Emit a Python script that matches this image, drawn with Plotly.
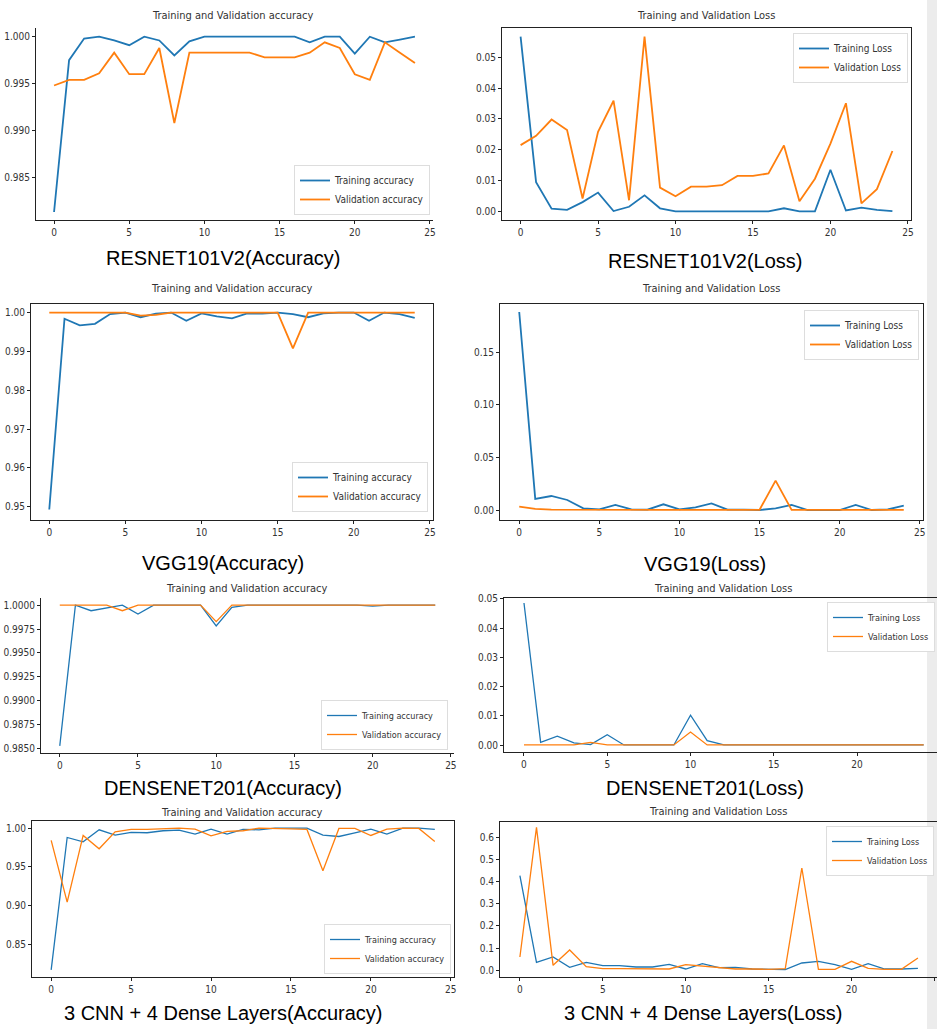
import plotly.graph_objects as go

W, H = 937, 1029
epochs = list(range(25))

# RESNET101V2
resnet_train_acc = [0.9813, 0.9975, 0.9998, 1.0, 0.9996, 0.9991, 1.0, 0.9996, 0.9980, 0.9995,
                    1.0, 1.0, 1.0, 1.0, 1.0, 1.0, 1.0, 0.9994, 1.0, 1.0,
                    0.9982, 1.0, 0.9994, 0.9997, 1.0]
resnet_val_acc = [0.9948, 0.9954, 0.9954, 0.9961, 0.9983, 0.9960, 0.9960, 0.9988, 0.9908, 0.9983,
                  0.9983, 0.9983, 0.9983, 0.9983, 0.9978, 0.9978, 0.9978, 0.9983, 0.9994, 0.9988,
                  0.9960, 0.9954, 0.9994, 0.9983, 0.9972]
resnet_train_loss = [0.0567, 0.0095, 0.0009, 0.0005, 0.0030, 0.0061, 0.0001, 0.0015, 0.0052, 0.0010,
                     0.0000, 0.0000, 0.0000, 0.0000, 0.0000, 0.0000, 0.0000, 0.0010, 0.0000, 0.0000,
                     0.0135, 0.0003, 0.0012, 0.0005, 0.0001]
resnet_val_loss = [0.0215, 0.0245, 0.0298, 0.0264, 0.0042, 0.0258, 0.0359, 0.0036, 0.0567, 0.0077,
                   0.0049, 0.0080, 0.0080, 0.0085, 0.0115, 0.0115, 0.0123, 0.0214, 0.0033, 0.0106,
                   0.0220, 0.0351, 0.0026, 0.0072, 0.0196]

# VGG19
vgg_train_acc = [0.9493, 0.9984, 0.9967, 0.9971, 0.9996, 1.0, 0.9988, 0.9997, 1.0, 0.9979,
                 0.9998, 0.9990, 0.9985, 0.9998, 0.9997, 1.0, 0.9996, 0.9988, 0.9998, 1.0,
                 1.0, 0.9979, 1.0, 0.9996, 0.9986]
vgg_val_acc = [1.0, 1.0, 1.0, 1.0, 1.0, 1.0, 0.9992, 0.9994, 1.0, 1.0,
               1.0, 1.0, 1.0, 1.0, 1.0, 1.0, 0.9908, 1.0, 1.0, 1.0,
               1.0, 1.0, 1.0, 1.0, 1.0]
vgg_train_loss = [0.1881, 0.0105, 0.0133, 0.0095, 0.0016, 0.0006, 0.0048, 0.0006, 0.0003, 0.0054,
                  0.0006, 0.0025, 0.0063, 0.0003, 0.0003, 0.0000, 0.0016, 0.0048, 0.0000, 0.0000,
                  0.0000, 0.0048, 0.0000, 0.0005, 0.0041]
vgg_val_loss = [0.0032, 0.0010, 0.0003, 0.0002, 0.0002, 0.0002, 0.0002, 0.0002, 0.0002, 0.0002,
                0.0002, 0.0002, 0.0002, 0.0002, 0.0002, 0.0002, 0.0279, 0.0001, 0.0001, 0.0001,
                0.0001, 0.0001, 0.0001, 0.0001, 0.0001]

# DENSENET201
dense_train_acc = [0.98528, 1.0, 0.99941, 0.9997, 1.0, 0.99906, 1.0, 1.0, 1.0, 1.0,
                   0.99782, 0.99976, 1.0, 1.0, 1.0, 1.0, 1.0, 1.0, 1.0, 1.0,
                   0.9999, 1.0, 1.0, 1.0, 1.0]
dense_val_acc = [1.0, 1.0, 1.0, 1.0, 0.99941, 1.0, 1.0, 1.0, 1.0, 1.0,
                 0.99827, 1.0, 1.0, 1.0, 1.0, 1.0, 1.0, 1.0, 1.0, 1.0,
                 1.0, 1.0, 1.0, 1.0, 1.0]
dense_train_loss = [0.0486, 0.0010, 0.0031, 0.0008, 0.0002, 0.0036, 0.0001, 0.0001, 0.0001, 0.0001,
                    0.01025, 0.0016, 0.0001, 0.0001, 0.0001, 0.0001, 0.0001, 0.0001, 0.0001, 0.0001,
                    0.0002, 0.0001, 0.0001, 0.0001, 0.0001]
dense_val_loss = [0.0001, 0.0001, 0.0001, 0.0001, 0.0010, 0.0001, 0.0001, 0.0001, 0.0001, 0.0001,
                  0.0045, 0.0001, 0.0001, 0.0001, 0.0001, 0.0001, 0.0001, 0.0001, 0.0001, 0.0001,
                  0.0001, 0.0001, 0.0001, 0.0001, 0.0001]

# 3 CNN + 4 Dense Layers
cnn_train_acc = [0.8168, 0.9879, 0.9823, 0.9978, 0.9909, 0.9944, 0.9940, 0.9966, 0.9974, 0.9922,
                 0.9987, 0.9922, 0.9983, 0.9978, 1.0, 1.0, 1.0, 0.9909, 0.9892, 0.9940,
                 0.9987, 0.9922, 1.0, 1.0, 0.9983]
cnn_val_acc = [0.9841, 0.9043, 0.9905, 0.9733, 0.9953, 0.9983, 0.9983, 0.9996, 1.0, 0.9987,
               0.9901, 0.9957, 0.9966, 1.0, 0.9991, 0.9991, 0.9983, 0.9448, 0.9996, 0.9996,
               0.9905, 0.9987, 1.0, 0.9996, 0.9828]
cnn_train_loss = [0.426, 0.036, 0.060, 0.0135, 0.036, 0.021, 0.021, 0.015, 0.015, 0.027,
                  0.006, 0.030, 0.012, 0.0135, 0.006, 0.0045, 0.003, 0.033, 0.0405, 0.0255,
                  0.0045, 0.030, 0.006, 0.006, 0.009]
cnn_val_loss = [0.060, 0.6435, 0.0225, 0.0915, 0.0165, 0.0075, 0.0075, 0.006, 0.0045, 0.006,
                0.0255, 0.0195, 0.0135, 0.006, 0.006, 0.0045, 0.0075, 0.4605, 0.0045, 0.0045,
                0.0405, 0.009, 0.0045, 0.0045, 0.0555]

plot_title_acc = "Training and Validation accuracy"
plot_title_loss = "Training and Validation Loss"
captions = ["RESNET101V2(Accuracy)", "RESNET101V2(Loss)",
            "VGG19(Accuracy)", "VGG19(Loss)",
            "DENSENET201(Accuracy)", "DENSENET201(Loss)",
            "3 CNN + 4 Dense Layers(Accuracy)", "3 CNN + 4 Dense Layers(Loss)"]
x_ticks = [0, 5, 10, 15, 20, 25]

BLUE = "#1f77b4"
ORANGE = "#ff7f0e"
TICKFONT = "DejaVu Sans Condensed, Liberation Sans Narrow, DejaVu Sans"

panels = [
    dict(tr=resnet_train_acc, va=resnet_val_acc, names=("Training accuracy", "Validation accuracy"),
         box=(36, 433, 28, 220), xr=[-1.2, 25.2], yr=[0.98045, 1.00093],
         yt=[0.985, 0.990, 0.995, 1.000], fmt="{:.3f}", title=plot_title_acc, tpos=(233, 15),
         cap=captions[0], cpos=(223, 258), leg=(430, 215, "right", "bottom"), lfs=10, lw=1.8, mirror=False),
    dict(tr=resnet_train_loss, va=resnet_val_loss, names=("Training Loss", "Validation Loss"),
         box=(502, 911, 28, 220), xr=[-1.2, 25.2], yr=[-0.0028, 0.0595],
         yt=[0.0, 0.01, 0.02, 0.03, 0.04, 0.05], fmt="{:.2f}", title=plot_title_loss, tpos=(706, 15),
         cap=captions[1], cpos=(705, 261), leg=(908, 33, "right", "top"), lfs=10, lw=1.8, mirror=True),
    dict(tr=vgg_train_acc, va=vgg_val_acc, names=("Training accuracy", "Validation accuracy"),
         box=(31, 433, 304, 520), xr=[-1.2, 25.2], yr=[0.9466, 1.0022],
         yt=[0.95, 0.96, 0.97, 0.98, 0.99, 1.00], fmt="{:.2f}", title=plot_title_acc, tpos=(232, 288),
         cap=captions[2], cpos=(223, 563), leg=(428, 512, "right", "bottom"), lfs=10, lw=1.8, mirror=True),
    dict(tr=vgg_train_loss, va=vgg_val_loss, names=("Training Loss", "Validation Loss"),
         box=(500, 923, 304, 520), xr=[-1.2, 25.2], yr=[-0.0095, 0.1957],
         yt=[0.0, 0.05, 0.10, 0.15], fmt="{:.2f}", title=plot_title_loss, tpos=(711, 288),
         cap=captions[3], cpos=(705, 564), leg=(919, 310, "right", "top"), lfs=10, lw=1.8, mirror=True),
    dict(tr=dense_train_acc, va=dense_val_acc, names=("Training accuracy", "Validation accuracy"),
         box=(41, 454, 598, 753), xr=[-1.2, 25.2], yr=[0.98454, 1.00074],
         yt=[0.985, 0.9875, 0.99, 0.9925, 0.995, 0.9975, 1.0], fmt="{:.4f}", title=plot_title_acc, tpos=(247, 588),
         cap=captions[4], cpos=(223, 788), leg=(448, 750, "right", "bottom"), lfs=9, lw=1.3, mirror=False),
    dict(tr=dense_train_loss, va=dense_val_loss, names=("Training Loss", "Validation Loss"),
         box=(504, 937, 598, 752), xr=[-1.2, 24.8], yr=[-0.0023, 0.0503],
         yt=[0.0, 0.01, 0.02, 0.03, 0.04, 0.05], fmt="{:.2f}", title=plot_title_loss, tpos=(723, 588),
         cap=captions[5], cpos=(705, 788), leg=(935, 602, "right", "top"), lfs=9, lw=1.3, mirror=True),
    dict(tr=cnn_train_acc, va=cnn_val_acc, names=("Training accuracy", "Validation accuracy"),
         box=(32, 454, 821, 977), xr=[-1.2, 25.2], yr=[0.8076, 1.0092],
         yt=[0.85, 0.90, 0.95, 1.00], fmt="{:.2f}", title=plot_title_acc, tpos=(242, 812),
         cap=captions[6], cpos=(223, 1013), leg=(451, 974, "right", "bottom"), lfs=9, lw=1.3, mirror=True),
    dict(tr=cnn_train_loss, va=cnn_val_loss, names=("Training Loss", "Validation Loss"),
         box=(500, 937, 822, 977), xr=[-1.2, 25.15], yr=[-0.03, 0.6675],
         yt=[0.0, 0.1, 0.2, 0.3, 0.4, 0.5, 0.6], fmt="{:.1f}", title=plot_title_loss, tpos=(718, 811),
         cap=captions[7], cpos=(703, 1013), leg=(934, 826, "right", "top"), lfs=9, lw=1.3, mirror=True),
]

fig = go.Figure()
layout = dict(width=W, height=H, margin=dict(l=0, r=0, t=0, b=0, autoexpand=False),
              paper_bgcolor="white", plot_bgcolor="white", showlegend=True)
annotations = []
shapes = [dict(type="rect", xref="paper", yref="paper", x0=927 / W, x1=1, y0=0, y1=1,
               fillcolor="#ececec", line=dict(width=0), layer="below")]

for i, p in enumerate(panels, start=1):
    sfx = "" if i == 1 else str(i)
    xa, ya = "x" + sfx, "y" + sfx
    lg = "legend" + sfx
    x0, x1, y0, y1 = p["box"]
    fig.add_trace(go.Scatter(x=epochs, y=p["tr"], mode="lines", name=p["names"][0],
                             line=dict(color=BLUE, width=p["lw"]), xaxis=xa, yaxis=ya, legend=lg))
    fig.add_trace(go.Scatter(x=epochs, y=p["va"], mode="lines", name=p["names"][1],
                             line=dict(color=ORANGE, width=p["lw"]), xaxis=xa, yaxis=ya, legend=lg))
    layout["xaxis" + sfx] = dict(domain=[x0 / W, x1 / W], anchor=ya, range=p["xr"],
                                 tickvals=x_ticks, ticktext=[str(t) for t in x_ticks],
                                 showgrid=False, zeroline=False, showline=True, linecolor="#222",
                                 linewidth=1, mirror=p["mirror"], ticks="outside", ticklen=3,
                                 tickcolor="#222", automargin=False,
                                 tickfont=dict(family=TICKFONT, size=10, color="#333"))
    layout["yaxis" + sfx] = dict(domain=[1 - y1 / H, 1 - y0 / H], anchor=xa, range=p["yr"],
                                 tickvals=p["yt"], ticktext=[p["fmt"].format(v) for v in p["yt"]],
                                 showgrid=False, zeroline=False, showline=True, linecolor="#222",
                                 linewidth=1, mirror=p["mirror"], ticks="outside", ticklen=3,
                                 tickcolor="#222", automargin=False,
                                 tickfont=dict(family=TICKFONT, size=10, color="#333"))
    lx, ly, xan, yan = p["leg"]
    layout[lg] = dict(x=lx / W, y=1 - ly / H, xanchor=xan, yanchor=yan, bgcolor="white",
                      bordercolor="#dddddd", borderwidth=1,
                      font=dict(family=TICKFONT, size=p["lfs"], color="#333"),
                      tracegroupgap=0, itemwidth=30)
    annotations.append(dict(text=p["title"], x=p["tpos"][0] / W, y=1 - p["tpos"][1] / H,
                            xref="paper", yref="paper", showarrow=False, xanchor="center", yanchor="middle",
                            font=dict(family=TICKFONT, size=11, color="#333")))
    annotations.append(dict(text=p["cap"], x=p["cpos"][0] / W, y=1 - p["cpos"][1] / H,
                            xref="paper", yref="paper", showarrow=False, xanchor="center", yanchor="middle",
                            font=dict(family="Liberation Sans, Arial", size=20, color="black")))

layout["annotations"] = annotations
layout["shapes"] = shapes
fig.update_layout(**layout)
fig.write_html("out.html", config={"displayModeBar": False},
               post_script="document.body.style.margin='0';document.body.style.overflow='hidden';")
